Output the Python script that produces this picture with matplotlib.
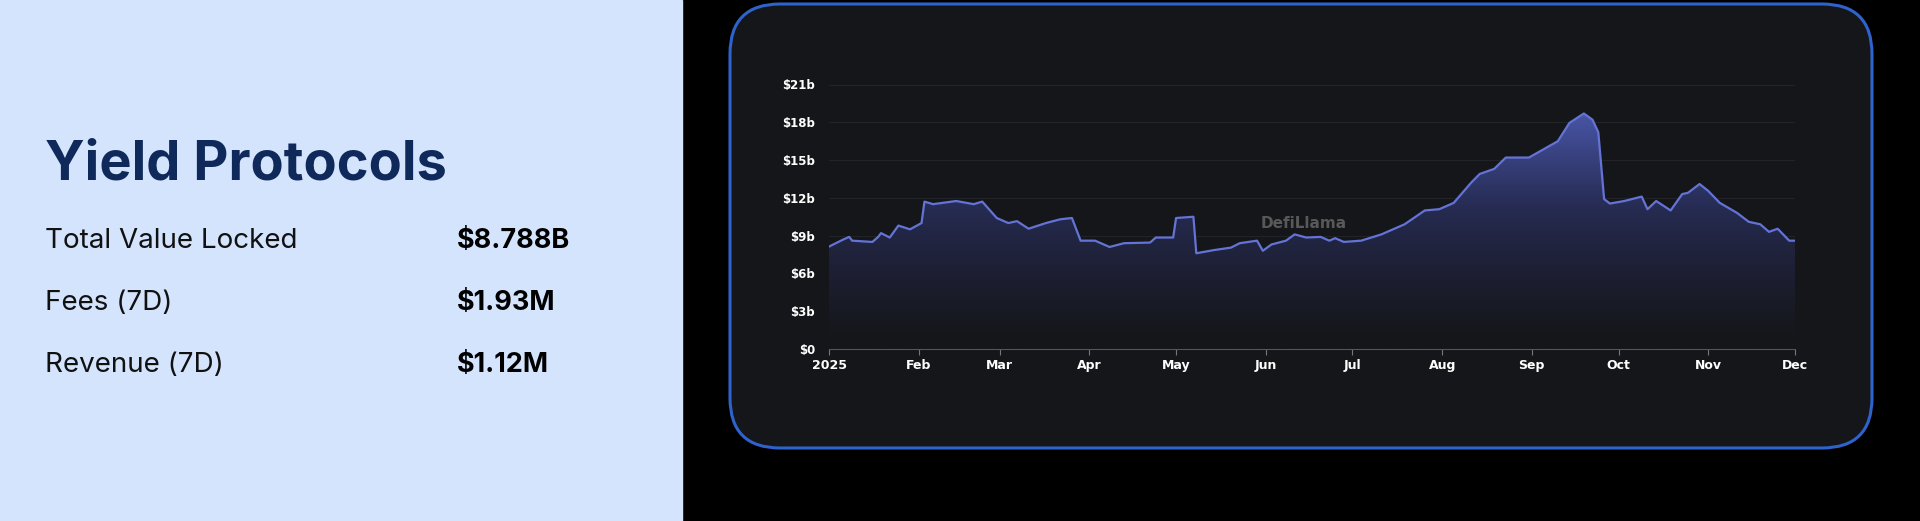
import matplotlib
matplotlib.use("Agg")
import matplotlib.pyplot as plt
import numpy as np
import datetime as dt
import matplotlib.dates as mdates
from matplotlib.patches import FancyBboxPatch, Rectangle, Polygon
from matplotlib.colors import LinearSegmentedColormap

title = "Yield Protocols"
stat_labels = ["Total Value Locked", "Fees (7D)", "Revenue (7D)"]
stat_values = ["$8.788B", "$1.93M", "$1.12M"]

day_offsets = [0,5,7,8,15,17,18,21,24,28,32,33,36,44,50,53,58,62,65,69,75,80,84,87,92,97,102,111,113,119,120,126,127,133,139,142,148,150,153,158,161,165,170,173,175,178,184,191,199,206,211,216,222,225,230,234,242,247,252,256,261,264,266,268,270,275,281,283,286,291,295,297,301,304,308,314,318,322,325,328,332,334]
tvl_b = [8.13,8.7,8.9,8.6,8.5,8.9,9.2,8.85,9.8,9.5,10.0,11.7,11.5,11.75,11.5,11.7,10.4,10.0,10.15,9.55,10.0,10.3,10.4,8.6,8.6,8.1,8.4,8.45,8.85,8.85,10.4,10.5,7.6,7.85,8.05,8.4,8.6,7.8,8.3,8.6,9.1,8.85,8.9,8.6,8.8,8.5,8.6,9.1,9.9,11.0,11.1,11.6,13.2,13.9,14.3,15.2,15.2,15.85,16.5,17.95,18.7,18.2,17.2,11.9,11.55,11.75,12.1,11.1,11.75,11.0,12.3,12.4,13.1,12.55,11.6,10.8,10.1,9.9,9.3,9.55,8.6,8.6]
y_ticks = [0,3,6,9,12,15,18,21]
y_tick_labels = ["$0","$3b","$6b","$9b","$12b","$15b","$18b","$21b"]
month_ticks = [dt.date(2025,m,1) for m in range(1,13)]
month_labels = ["2025","Feb","Mar","Apr","May","Jun","Jul","Aug","Sep","Oct","Nov","Dec"]

start = dt.date(2025,1,1)
dates = [start + dt.timedelta(days=d) for d in day_offsets]
xn = mdates.date2num(dates)

W, H = 1920, 521
fig = plt.figure(figsize=(W/100, H/100), dpi=100)
fig.patch.set_facecolor("#000000")
bg = fig.add_axes([0,0,1,1]); bg.set_xlim(0,W); bg.set_ylim(H,0); bg.axis("off")
bg.add_patch(Rectangle((0,0),682,H,color="#d4e4fd"))
bg.add_patch(FancyBboxPatch((730,4),1142,444,boxstyle="round,pad=0,rounding_size=50",
                            fc="#151619",ec="#2e62cc",lw=2.2))
bg.text(45,165,title,fontsize=39,fontweight="bold",color="#0f2a5a",va="center",family="Inter")
for i,(l,v) in enumerate(zip(stat_labels,stat_values)):
    y = 241+62*i
    bg.text(45,y,l,fontsize=20,color="#111111",va="center",family="Inter")
    bg.text(457,y,v,fontsize=19.5,color="#000000",fontweight="bold",va="center",family="Inter")
bg.text(1304,224,"DefiLlama",fontsize=11,color="#6a6a6a",fontweight="bold",ha="center",va="center",alpha=0.8)

ax = fig.add_axes([829/W, 172/H, 966/W, 264.5/H])
ax.set_facecolor("none")
ax.set_xlim(xn[0], xn[-1]); ax.set_ylim(0,21)
grad = np.linspace(0,1,256).reshape(-1,1)
cmap = LinearSegmentedColormap.from_list("g",["#151619","#262b52","#4a57aa"])
im = ax.imshow(grad**1.3, cmap=cmap, aspect="auto", origin="lower",
               extent=[xn[0],xn[-1],0,19], zorder=2)
poly = Polygon(np.column_stack([np.r_[xn[0],xn,xn[-1]], np.r_[0,tvl_b,0]]), closed=True,
               fc="none", ec="none", transform=ax.transData)
ax.add_patch(poly); im.set_clip_path(poly)
ax.plot(xn, tvl_b, color="#6473d6", lw=1.6, zorder=3)
ax.set_yticks(y_ticks); ax.set_yticklabels(y_tick_labels)
ax.set_xticks(mdates.date2num(month_ticks)); ax.set_xticklabels(month_labels)
ax.set_axisbelow(True)
ax.grid(axis="y", color="#222327", lw=0.8, zorder=0)
for s in ["top","right","left"]: ax.spines[s].set_visible(False)
ax.spines["bottom"].set_color("#555555")
ax.tick_params(axis="y", length=0, colors="white", labelsize=8.5, pad=10)
ax.tick_params(axis="x", length=4, color="#777777", colors="white", labelsize=9)
for t in ax.get_xticklabels()+ax.get_yticklabels():
    t.set_fontweight("bold")
fig.savefig("out.png", dpi=100, facecolor=fig.get_facecolor())
